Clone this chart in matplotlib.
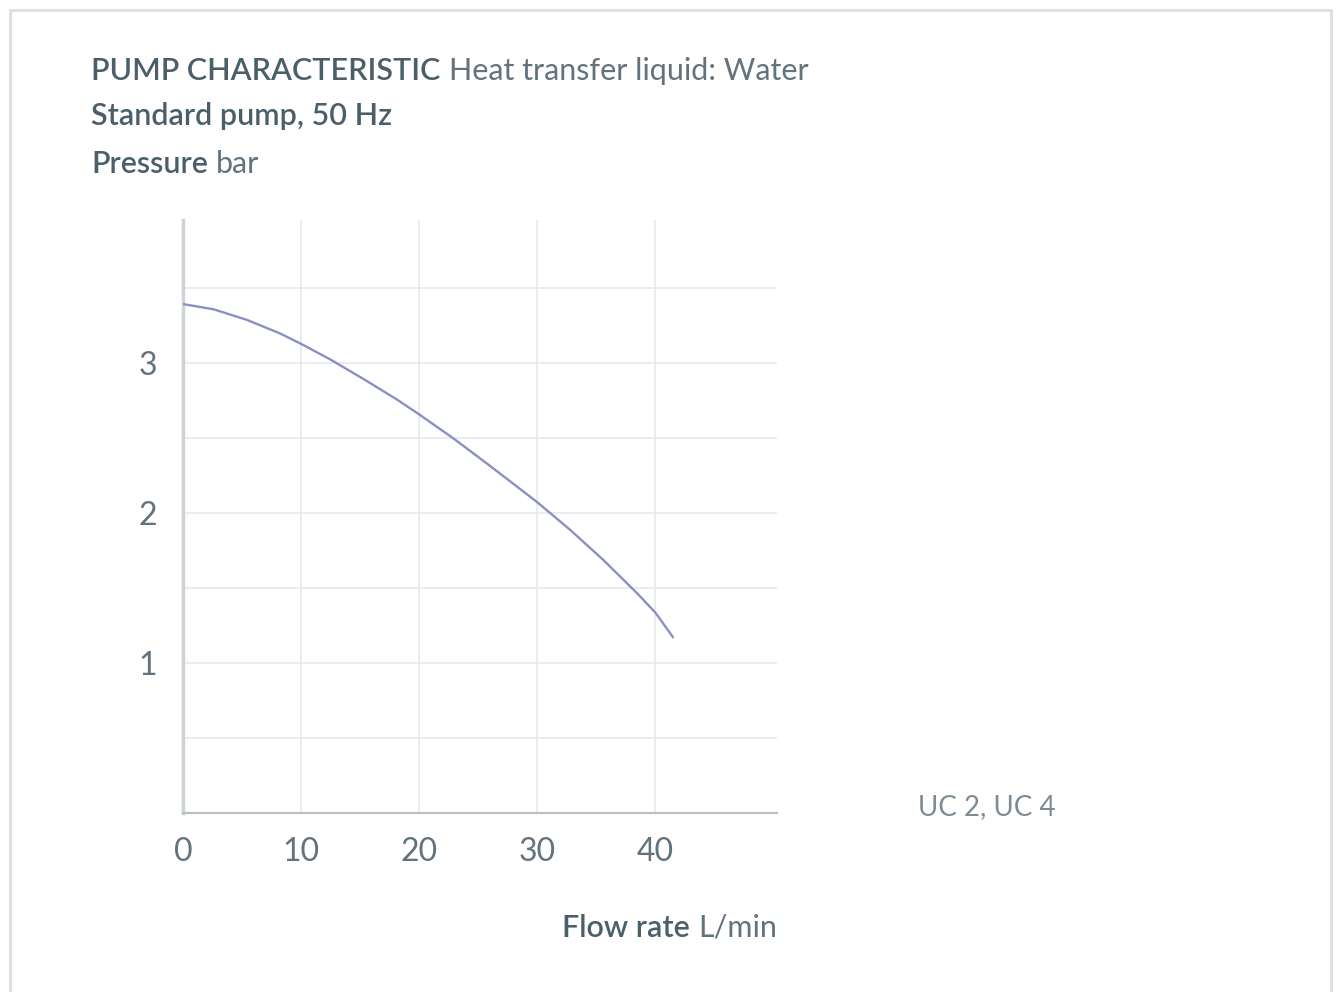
import matplotlib
matplotlib.use('Agg')
import matplotlib.pyplot as plt
from matplotlib.patches import Rectangle

plt.rcParams['font.family'] = ['Lato', 'DejaVu Sans']

# pump curve (flow L/min, pressure bar)
flow = [0, 2.6, 5.4, 8.2, 10, 12.5, 15.3, 18.1, 20, 22.9, 25.7, 28.6, 30,
        32.8, 35.6, 38.5, 40, 41.5]
pressure = [3.39, 3.355, 3.285, 3.195, 3.125, 3.02, 2.89, 2.755, 2.655, 2.495, 2.33,
            2.155, 2.07, 1.885, 1.685, 1.46, 1.335, 1.17]

x_ticks = [0, 10, 20, 30, 40]
y_ticks = [1, 2, 3]
y_grid = [0.5, 1, 1.5, 2, 2.5, 3, 3.5]

dark = '#4b5f6b'
mid = '#62737d'
grid_c = '#e6e9ec'

fig = plt.figure(figsize=(13.38, 9.92), dpi=100)
fig.patches.append(Rectangle((10 / 1338, -0.05), 1321 / 1338, 1 - 10 / 992 + 0.05,
                             transform=fig.transFigure, fill=False,
                             edgecolor='#dedede', linewidth=2))

ax = fig.add_axes([183 / 1338, 179 / 992, 594 / 1338, 593 / 992])
ax.set_xlim(0, 50.3)
ax.set_ylim(0, 3.95)

for g in x_ticks[1:]:
    ax.axvline(g, color=grid_c, lw=1.2, zorder=1)
for g in y_grid:
    ax.axhline(g, color=grid_c, lw=1.2, zorder=1)

ax.plot(flow, pressure, color='#8b90c2', lw=1.7, zorder=3,
        solid_capstyle='round', solid_joinstyle='round')

for s in ['top', 'right']:
    ax.spines[s].set_visible(False)
ax.spines['left'].set_color('#cdd3d7')
ax.spines['left'].set_linewidth(2.5)
ax.spines['bottom'].set_color('#b9c1c7')
ax.spines['bottom'].set_linewidth(1.6)

ax.set_xticks(x_ticks)
ax.set_yticks(y_ticks)
ax.tick_params(length=0, labelsize=23, labelcolor=mid)
ax.tick_params(axis='x', pad=17)
ax.tick_params(axis='y', pad=19)


def two_part(x, y, bold, light, size=22):
    t1 = fig.text(x, y, bold, fontsize=size, fontweight='semibold', color=dark, va='baseline')
    plt.annotate(light, xy=(1, 0), xycoords=t1, xytext=(6, 0), textcoords='offset points',
                 fontsize=size, fontweight='normal', color=mid, va='bottom', ha='left',
                 annotation_clip=False)


two_part(91 / 1338, 1 - 80 / 992, 'PUMP CHARACTERISTIC', 'Heat transfer liquid: Water')
fig.text(91 / 1338, 1 - 125 / 992, 'Standard pump, 50 Hz', fontsize=22,
         fontweight='semibold', color=dark, va='baseline')
two_part(91 / 1338, 1 - 173 / 992, 'Pressure', 'bar')

# x axis title, right aligned to the axis end
t_unit = fig.text(777 / 1338, 1 - 937 / 992, 'L/min', fontsize=22, fontweight='normal',
                  color=mid, ha='right', va='baseline')
plt.annotate('Flow rate', xy=(0, 0), xycoords=t_unit, xytext=(-6, 0), textcoords='offset points',
             fontsize=22, fontweight='semibold', color=dark, ha='right', va='bottom',
             annotation_clip=False)

fig.text(918 / 1338, 1 - 815 / 992, 'UC 2, UC 4', fontsize=20, fontweight='normal',
         color='#7c8b94', va='baseline')

fig.savefig('out.png', dpi=100)
